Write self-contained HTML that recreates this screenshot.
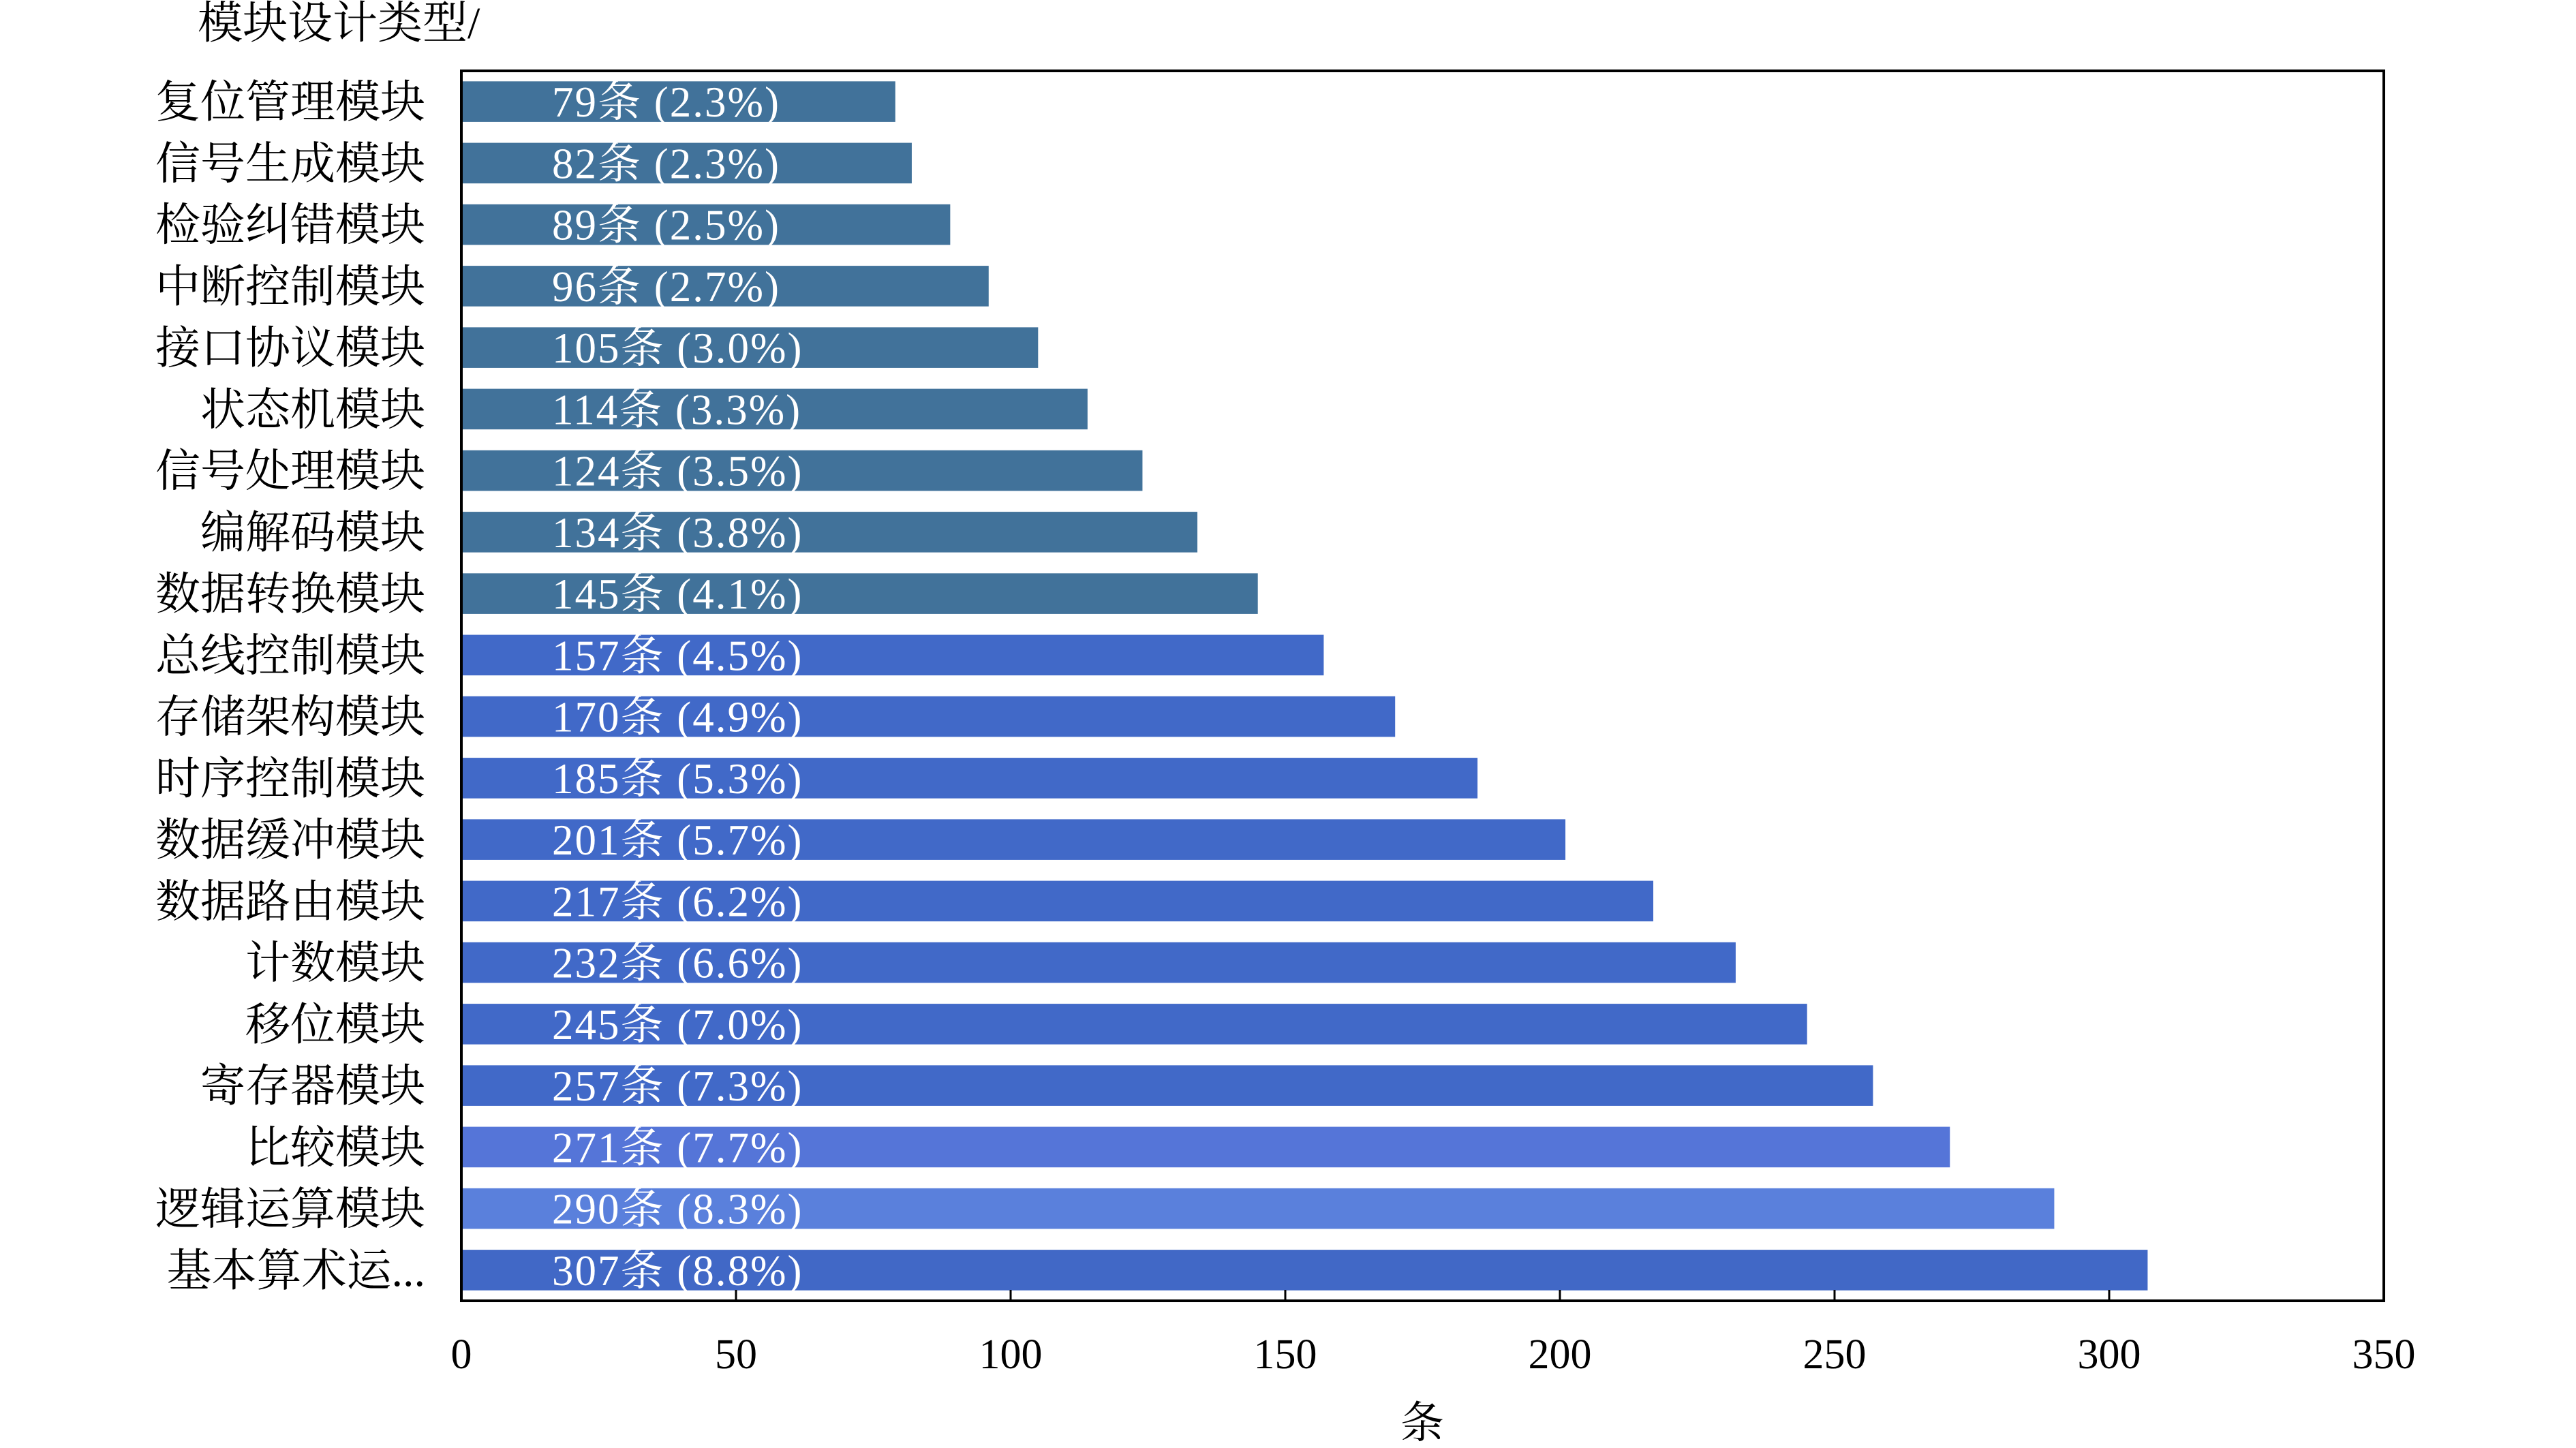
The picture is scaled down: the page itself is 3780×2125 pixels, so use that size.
<!DOCTYPE html>
<html><head><meta charset="utf-8"><style>
html,body{margin:0;padding:0;background:#fff;}
svg{display:block;}
text{font-family:"Liberation Serif","Noto Serif CJK SC",serif;}
</style></head><body>
<svg id="chart" width="3780" height="2125" viewBox="0 0 3780 2125" xmlns="http://www.w3.org/2000/svg">
<text x="290" y="56" font-size="66" fill="#000">模块设计类型/</text>
<g id="bars"></g>
<g id="ylabels"></g>
<g id="xticks"></g>
<rect x="677" y="104" width="2821" height="1805" fill="none" stroke="#000" stroke-width="4"/>
<text x="2087" y="2110" font-size="64" text-anchor="middle" fill="#000">条</text>
</svg>
<script>
const categories=["复位管理模块","信号生成模块","检验纠错模块","中断控制模块","接口协议模块","状态机模块","信号处理模块","编解码模块","数据转换模块","总线控制模块","存储架构模块","时序控制模块","数据缓冲模块","数据路由模块","计数模块","移位模块","寄存器模块","比较模块","逻辑运算模块","基本算术运..."];
const values=[79,82,89,96,105,114,124,134,145,157,170,185,201,217,232,245,257,271,290,307];
const percents=["2.3","2.3","2.5","2.7","3.0","3.3","3.5","3.8","4.1","4.5","4.9","5.3","5.7","6.2","6.6","7.0","7.3","7.7","8.3","8.8"];
const xTicks=[0,50,100,150,200,250,300,350];
const colors=["#41729a","#41729a","#41729a","#41729a","#41729a","#41729a","#41729a","#41729a","#41729a","#4169c8","#4169c8","#4169c8","#4169c8","#4169c8","#4169c8","#4169c8","#4169c8","#5575d8","#5a80dc","#4168c6"];
const NS="http://www.w3.org/2000/svg";
const L=677,R=3498,T=104,B=1909,xMax=350;
const band=(B-T)/categories.length;
const x=v=>L+(R-L)*v/xMax;
const yc=i=>T+band*(i+0.5);
const bh=band*0.66;
const gb=document.getElementById('bars'),gl=document.getElementById('ylabels'),gx=document.getElementById('xticks');
categories.forEach((c,i)=>{
  const r=document.createElementNS(NS,'rect');
  r.setAttribute('x',x(0));r.setAttribute('y',yc(i)-bh/2);
  r.setAttribute('width',x(values[i])-x(0));r.setAttribute('height',bh);
  r.setAttribute('fill',colors[i]);
  
  
  gb.appendChild(r);
  const t=document.createElementNS(NS,'text');
  t.setAttribute('x',x(16.5));t.setAttribute('y',yc(i)+22);
  t.setAttribute('font-size','63');t.setAttribute('fill','#fff');t.setAttribute('letter-spacing','2');
  t.textContent=values[i]+'条 ('+percents[i]+'%)';
  
  
  gb.appendChild(t);
  const l=document.createElementNS(NS,'text');
  l.setAttribute('x',624);l.setAttribute('y',yc(i)+23);
  l.setAttribute('font-size','66');l.setAttribute('text-anchor','end');l.setAttribute('fill','#000');
  l.textContent=c;
  
  
  gl.appendChild(l);
});
xTicks.forEach(v=>{
  const ln=document.createElementNS(NS,'line');
  ln.setAttribute('x1',x(v));ln.setAttribute('x2',x(v));
  ln.setAttribute('y1',B);ln.setAttribute('y2',B-16);
  ln.setAttribute('stroke','#000');ln.setAttribute('stroke-width','3');
  
  
  gx.appendChild(ln);
  const t=document.createElementNS(NS,'text');
  t.setAttribute('x',x(v));t.setAttribute('y',2008);
  t.setAttribute('font-size','62');t.setAttribute('text-anchor','middle');t.setAttribute('fill','#000');
  t.textContent=v;
  
  
  gx.appendChild(t);
});
</script>
</body></html>
